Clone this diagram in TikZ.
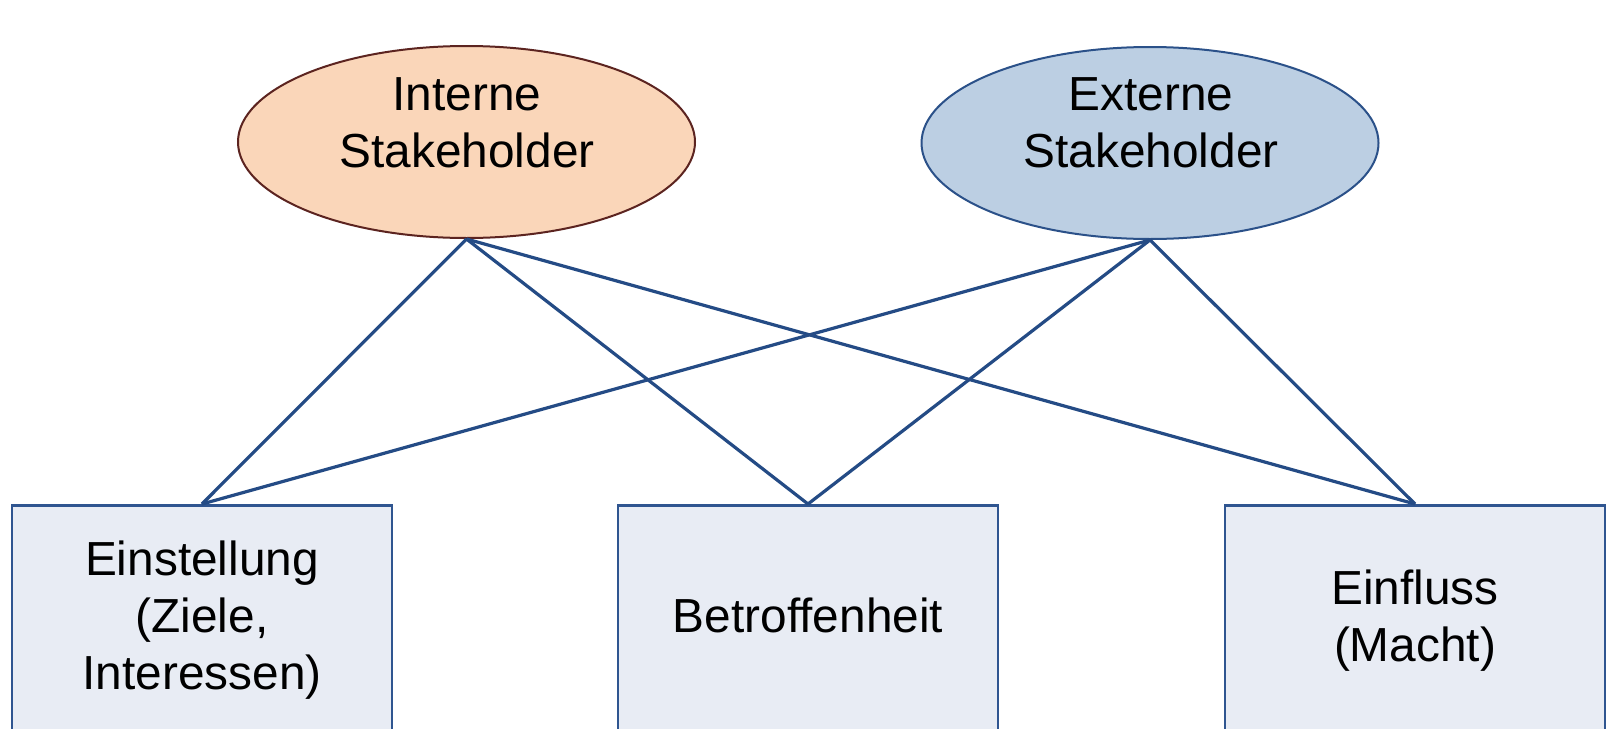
\documentclass[tikz,border=0pt]{standalone}
\usepackage{fontspec}
\setmainfont{Liberation Sans}
\usetikzlibrary{shapes.geometric}
\definecolor{intfill}{HTML}{FAD6B9}
\definecolor{intdraw}{HTML}{5C2420}
\definecolor{extfill}{HTML}{BCCFE3}
\definecolor{extdraw}{HTML}{2B5189}
\definecolor{boxfill}{HTML}{E8ECF4}
\definecolor{boxdraw}{HTML}{2F5590}
\definecolor{linkcol}{HTML}{244B85}
\tikzset{
  oval/.style={ellipse, minimum width=457pt, minimum height=192pt, inner sep=0pt, line width=2pt},
  intoval/.style={oval, fill=intfill, draw=intdraw},
  extoval/.style={oval, fill=extfill, draw=extdraw},
  boxshape/.style={rectangle, minimum width=380pt, minimum height=250pt, inner sep=0pt, fill=boxfill, draw=boxdraw, line width=2.5pt, anchor=north},
  lbl/.style={inner sep=0pt, align=center, font=\fontsize{47.8}{57}\selectfont},
  link/.style={draw=linkcol, line width=3.2pt}
}
\begin{document}
\begin{tikzpicture}[x=1pt,y=-1pt]
\useasboundingbox (0,0) rectangle (1608,728);
\clip (0,0) rectangle (1608,728);
\fill[white] (0,0) rectangle (1608,728);
% boxes
\node[boxshape] (b1) at (202,504) {};
\node[boxshape] (b2) at (808,504) {};
\node[boxshape] (b3) at (1415,504) {};
% ellipses
\node[intoval] (e1) at (466.5,142) {};
\node[extoval] (e2) at (1150,143) {};
% connectors
\draw[link] (e1.south) -- (b1.north);
\draw[link] (e1.south) -- (b2.north);
\draw[link] (e1.south) -- (b3.north);
\draw[link] (e2.south) -- (b1.north);
\draw[link] (e2.south) -- (b2.north);
\draw[link] (e2.south) -- (b3.north);
% texts
\node[lbl] (t1) at (467,122.5) {Interne\\Stakeholder};
\node[lbl] (t2) at (1151,122.5) {Externe\\Stakeholder};
\node[lbl] (t3) at (202,620) {Einstellung\\(Ziele,\\Interessen)};
\node[lbl] (t4) at (808,615) {Betroffenheit};
\node[lbl] (t5) at (1415,620.5) {Einfluss\\(Macht)};
\end{tikzpicture}
\end{document}
